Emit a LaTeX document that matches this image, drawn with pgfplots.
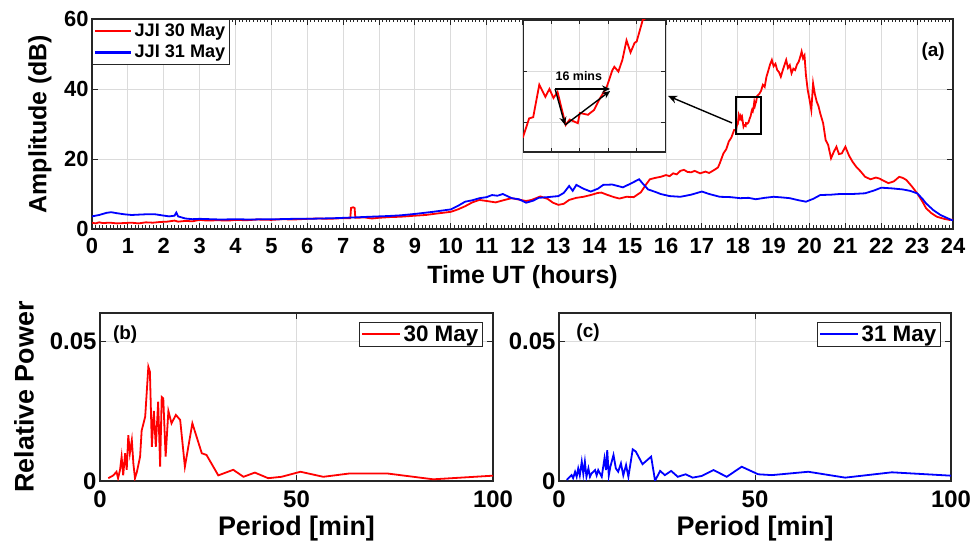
\documentclass[border=0pt]{standalone}
\usepackage{fontspec}
\setmainfont{Liberation Sans}
\usepackage{pgfplots}
\pgfplotsset{compat=1.18}
\usetikzlibrary{arrows.meta}

\pgfplotstableread{
t a
0.0 1.8
0.1 1.6
0.2 1.9
0.3 1.7
0.5 1.8
0.7 1.6
0.9 1.7
1.1 1.8
1.3 1.6
1.5 1.9
1.7 1.8
1.9 2.0
2.1 2.1
2.3 2.4
2.4 2.1
2.6 2.3
2.8 2.2
3.0 2.6
3.2 2.4
3.5 2.5
3.8 2.4
4.0 2.6
4.3 2.5
4.6 2.7
5.0 2.6
5.3 2.8
5.6 2.7
6.0 2.9
6.3 3.0
6.6 2.9
7.0 3.1
7.2 3.1
7.22 6.0
7.28 6.2
7.32 6.0
7.34 3.2
7.6 3.3
7.8 3.0
8.0 3.2
8.3 3.4
8.6 3.5
9.0 3.8
9.3 4.0
9.6 4.4
10.0 4.9
10.2 5.6
10.4 6.5
10.6 7.6
10.8 8.3
11.0 8.0
11.25 7.6
11.5 8.3
11.7 8.8
11.9 8.4
12.1 8.0
12.25 8.3
12.5 9.3
12.7 8.6
12.85 7.5
13.0 6.9
13.15 7.2
13.3 8.3
13.5 8.9
13.7 9.2
13.9 9.7
14.1 10.3
14.2 10.4
14.35 9.8
14.55 9.1
14.7 8.7
14.9 9.2
15.1 9.1
15.3 10.5
15.45 12.8
15.55 14.2
15.7 14.6
15.85 14.9
16.0 15.4
16.1 15.1
16.2 15.9
16.3 15.6
16.4 16.6
16.5 16.9
16.6 16.3
16.7 16.2
16.8 16.6
16.95 15.9
17.1 16.4
17.2 16.0
17.35 16.9
17.45 17.6
17.5 18.8
17.6 21.6
17.68 22.8
17.75 25.0
17.82 26.1
17.9 28.3
17.95 28.25
17.98 29.8
18.00 29.9
18.03 32.6
18.06 31.6
18.08 32.25
18.10 31.5
18.12 32.0
18.16 29.25
18.18 29.7
18.22 29.4
18.23 30.25
18.27 30.1
18.30 30.5
18.33 31.5
18.36 32.3
18.39 33.8
18.40 34.1
18.42 33.7
18.44 34.7
18.46 36.3
18.48 35.3
18.50 36.1
18.51 36.2
18.54 38.0
18.6 38.6
18.65 39.5
18.7 41.2
18.75 40.6
18.8 43.5
18.85 45.2
18.9 47.0
18.95 48.3
19.0 46.5
19.05 47.2
19.1 45.4
19.15 44.8
19.2 43.5
19.25 45.2
19.3 46.8
19.35 48.3
19.4 46.0
19.45 46.8
19.5 44.5
19.55 45.8
19.6 45.4
19.65 47.0
19.7 47.8
19.75 49.5
19.78 50.7
19.82 48.8
19.86 49.6
19.9 44.0
19.95 39.7
20.0 37.0
20.05 34.0
20.1 41.6
20.15 38.5
20.2 36.4
20.25 35.1
20.3 33.0
20.38 30.2
20.45 25.4
20.52 24.0
20.6 20.2
20.68 22.1
20.75 23.5
20.82 21.4
20.9 21.6
21.0 23.5
21.1 21.0
21.2 19.2
21.3 17.8
21.42 16.5
21.55 14.9
21.7 14.2
21.85 14.7
21.95 14.4
22.1 13.6
22.2 13.1
22.35 13.6
22.5 14.9
22.6 14.6
22.7 14.0
22.85 12.2
23.0 10.2
23.15 7.8
23.25 5.9
23.4 4.5
23.55 3.5
23.75 2.9
23.9 2.6
24.0 2.7
}\redmay

\pgfplotstableread{
t a
0.0 3.6
0.2 4.0
0.4 4.6
0.53 4.8
0.7 4.5
0.9 4.2
1.1 4.0
1.3 4.1
1.5 4.2
1.76 4.2
1.95 3.9
2.15 3.6
2.3 3.8
2.35 4.7
2.4 3.6
2.6 3.0
2.8 2.8
3.0 2.9
3.3 2.8
3.6 2.7
4.0 2.8
4.4 2.7
4.8 2.8
5.2 2.8
5.6 2.9
6.0 2.9
6.4 3.0
6.8 3.1
7.3 3.3
7.75 3.5
8.25 3.7
8.6 3.9
9.0 4.3
9.5 4.9
10.0 5.6
10.2 6.6
10.4 7.8
10.6 8.2
10.8 8.8
11.0 9.1
11.15 9.7
11.3 9.5
11.45 10.0
11.7 8.8
11.9 8.5
12.1 7.5
12.3 8.1
12.45 8.9
12.7 9.1
13.0 9.4
13.15 10.3
13.3 12.3
13.4 10.9
13.5 12.6
13.7 11.5
13.9 10.7
14.1 11.5
14.25 12.6
14.5 12.7
14.8 11.9
15.0 12.9
15.25 14.2
15.35 13.0
15.5 11.3
15.7 10.6
15.85 10.0
16.1 9.4
16.4 9.2
16.7 9.8
17.0 10.7
17.2 10.0
17.5 9.2
17.8 9.1
18.07 8.8
18.3 8.9
18.5 8.5
18.75 8.9
19.0 9.2
19.25 9.0
19.45 8.8
19.7 8.2
19.9 7.8
20.1 8.6
20.3 9.7
20.6 9.8
20.85 10.0
21.2 10.0
21.55 10.2
21.8 11.0
22.0 11.8
22.3 11.6
22.6 11.3
22.8 10.9
23.0 10.2
23.15 8.6
23.25 7.3
23.45 5.4
23.65 4.0
23.8 3.3
23.95 2.6
24.0 2.5
}\bluemay

\pgfplotstableread{
p r
2.1 0.001
3.4 0.002
4.2 0.0033
4.6 0.001
5.1 0.004
5.5 0.0087
5.9 0.002
6.4 0.0099
6.8 0.004
7.2 0.0164
7.6 0.0099
8.1 0.0146
8.5 0.0061
8.9 0.001
9.4 0.0033
10.2 0.0087
10.6 0.018
11.5 0.023
12.3 0.0408
12.7 0.039
13.2 0.0122
13.7 0.025
14.2 0.0122
14.8 0.0283
15.3 0.0051
15.7 0.030
16.1 0.0295
16.7 0.0087
17.4 0.025
18.2 0.0206
19.3 0.0236
20.4 0.0218
21.6 0.0051
23.5 0.0206
25.9 0.0099
27.1 0.0093
30.1 0.002
33.9 0.004
36.5 0.0015
39.4 0.003
42.8 0.001
46.2 0.0015
51.0 0.0033
56.8 0.0015
63.6 0.0027
73.0 0.0027
84.8 0.0006
100.0 0.0019
}\redspec

\pgfplotstableread{
p r
2.0 0.0004
3.2 0.0021
3.6 0.001
4.1 0.0033
4.5 0.0015
4.9 0.0045
5.3 0.002
5.8 0.0069
6.2 0.0025
6.6 0.0069
7.0 0.0015
7.5 0.0045
7.9 0.0015
8.3 0.0027
9.2 0.0039
9.6 0.002
10.0 0.0039
10.9 0.0015
11.6 0.0081
12.0 0.0039
12.3 0.011
12.7 0.002
13.1 0.0051
13.9 0.0093
14.5 0.0045
15.1 0.0033
15.8 0.0063
16.4 0.002
17.1 0.0057
17.7 0.0015
18.8 0.0113
19.6 0.0105
21.3 0.006
23.5 0.0087
24.5 0.0001
25.8 0.0036
27.0 0.0021
28.6 0.0036
30.3 0.0015
32.3 0.0024
34.1 0.0012
36.4 0.0018
39.4 0.0039
42.8 0.0015
46.6 0.0051
50.8 0.0024
54.3 0.0021
63.6 0.0033
73.0 0.0012
84.9 0.0031
100.0 0.0019
}\bluespec

\pgfplotsset{
  mybase/.style={
    scale only axis,
    axis line style={black!85, line width=1.1bp},
    tick style={black!85, line width=0.8bp},
    grid=major,
    major grid style={black!14, line width=0.8bp},
    tick align=inside,
    /pgf/number format/assume math mode=true,
    legend cell align=left,
  },
}

\begin{document}
\begin{tikzpicture}[x=1bp,y=1bp]
\useasboundingbox (0,0) rectangle (977,545);

% ---------- panel (a) ----------
\begin{axis}[mybase,
  at={(92bp,316bp)}, anchor=south west,
  width=861bp, height=210bp,
  xmin=0, xmax=24, ymin=0, ymax=60,
  xtick={0,1,...,24}, ytick={0,20,40,60},
  minor x tick num=9,
  major tick length=6bp, minor tick length=3.5bp,
  ticklabel style={font=\bfseries\fontsize{22}{24}\selectfont},
  xticklabel style={yshift=-6bp},
  xlabel={\bfseries Time UT (hours)},
  ylabel={\bfseries Amplitude (dB)},
  every axis x label/.style={at={(rel axis cs:0.5,0)}, yshift=-48bp, anchor=center, font=\bfseries\fontsize{25}{27}\selectfont},
  every axis y label/.style={at={(rel axis cs:0,0.5)}, xshift=-52bp, rotate=90, anchor=center, font=\bfseries\fontsize{25}{27}\selectfont},
  legend style={at={(rel axis cs:0,1)}, anchor=north west, draw=black!85, fill=white,
    font=\bfseries\fontsize{18.2}{20}\selectfont, inner xsep=2bp, inner ysep=3bp, row sep=3bp},
  legend image code/.code={\draw[#1] (0bp,0bp) -- (36bp,0bp);},
  legend image post style={line width=2.4bp},
]
\addplot[red, line width=1.8bp] table[x=t, y=a] {\redmay};
\addlegendentry{JJI 30 May}
\addplot[blue, line width=1.8bp] table[x=t, y=a] {\bluemay};
\addlegendentry{JJI 31 May}
\draw[black, line width=1.4bp] (axis cs:17.95,27.1) rectangle (axis cs:18.65,37.7);
\draw[black, line width=1.4bp, -{Stealth[length=9bp, width=8bp]}] (axis cs:17.84,30.3) -- (axis cs:16.06,38.0);
\node[font=\bfseries\fontsize{19}{21}\selectfont] at (rel axis cs:0.977,0.843) {(a)};
\end{axis}

% ---------- inset ----------
\begin{axis}[mybase,
  at={(523bp,393bp)}, anchor=south west,
  width=142bp, height=132bp,
  xmin=17.95, xmax=18.65, ymin=27, ymax=38,
  xtick={18.09,18.23,18.37,18.51}, ytick={29.5,33.75},
  xticklabels={}, yticklabels={},
  major tick length=4bp,
  axis background/.style={fill=white},
]
\addplot[red, line width=1.8bp] table[x=t, y=a] {\redmay};
\draw[black, line width=1.4bp, -{Stealth[length=8bp, width=7bp]}] (axis cs:18.108,32.25) -- (axis cs:18.379,32.25);
\draw[black, line width=1.4bp, -{Stealth[length=8bp, width=7bp]}] (axis cs:18.108,32.25) -- (axis cs:18.157,29.25);
\draw[black, line width=1.4bp, -{Stealth[length=8bp, width=7bp]}] (axis cs:18.157,29.25) -- (axis cs:18.379,32.08);
\node[font=\bfseries\fontsize{12.5}{14}\selectfont] at (axis cs:18.225,33.3) {16 mins};
\end{axis}

% ---------- panel (b) ----------
\begin{axis}[mybase,
  at={(100bp,64bp)}, anchor=south west,
  width=393bp, height=168bp,
  xmin=0, xmax=100, ymin=0, ymax=0.06,
  xtick={0,50,100}, ytick={0,0.05}, yticklabels={0,0.05},
  scaled y ticks=false,
  major tick length=6bp,
  ticklabel style={font=\bfseries\fontsize{24}{26}\selectfont},
  xticklabel style={yshift=-6bp},
  xlabel={Period [min]},
  ylabel={Relative Power},
  every axis x label/.style={at={(rel axis cs:0.5,0)}, yshift=-48bp, anchor=center, font=\bfseries\fontsize{27}{29}\selectfont},
  every axis y label/.style={at={(rel axis cs:0,0.5)}, xshift=-76bp, rotate=90, anchor=center, font=\bfseries\fontsize{27}{29}\selectfont},
  legend style={at={(rel axis cs:1,1)}, anchor=north east, xshift=-11bp, yshift=-9bp, draw=black!85, fill=white,
    font=\bfseries\fontsize{22.5}{24}\selectfont, inner sep=1.5bp},
  legend image code/.code={\draw[#1] (0bp,0bp) -- (38bp,0bp);},
  legend image post style={line width=2.4bp},
]
\addplot[red, line width=1.8bp] table[x=p, y=r] {\redspec};
\addlegendentry{30 May}
\node[font=\bfseries\fontsize{19}{21}\selectfont] at (rel axis cs:0.064,0.869) {(b)};
\end{axis}

% ---------- panel (c) ----------
\begin{axis}[mybase,
  at={(559bp,64bp)}, anchor=south west,
  width=392bp, height=168bp,
  xmin=0, xmax=100, ymin=0, ymax=0.06,
  xtick={0,50,100}, ytick={0,0.05}, yticklabels={0,0.05},
  scaled y ticks=false,
  major tick length=6bp,
  ticklabel style={font=\bfseries\fontsize{24}{26}\selectfont},
  xticklabel style={yshift=-6bp},
  xlabel={Period [min]},
  every axis x label/.style={at={(rel axis cs:0.5,0)}, yshift=-48bp, anchor=center, font=\bfseries\fontsize{27}{29}\selectfont},
  legend style={at={(rel axis cs:1,1)}, anchor=north east, xshift=-11bp, yshift=-9bp, draw=black!85, fill=white,
    font=\bfseries\fontsize{22.5}{24}\selectfont, inner sep=1.5bp},
  legend image code/.code={\draw[#1] (0bp,0bp) -- (38bp,0bp);},
  legend image post style={line width=2.4bp},
]
\addplot[blue, line width=1.8bp] table[x=p, y=r] {\bluespec};
\addlegendentry{31 May}
\node[font=\bfseries\fontsize{19}{21}\selectfont] at (rel axis cs:0.074,0.881) {(c)};
\end{axis}
\end{tikzpicture}
\end{document}
